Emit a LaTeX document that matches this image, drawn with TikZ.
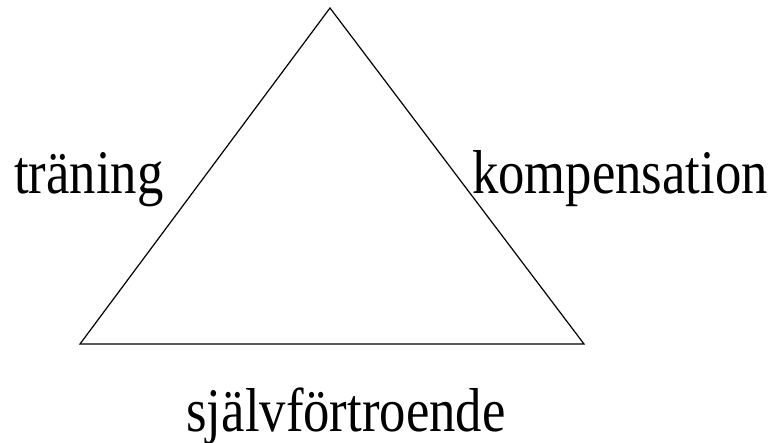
\documentclass[tikz,border=0pt]{standalone}
\usepackage{fontspec}
\setmainfont{Liberation Serif}
\usepackage{tikz}
\usetikzlibrary{positioning}

\begin{document}
\begin{tikzpicture}[
  x=1pt, y=-1pt,
  label/.style={inner sep=0pt, anchor=base west, xscale=0.85, font=\fontsize{62}{62}\selectfont},
  side/.style={line width=1.2pt, line join=miter}
]
  \useasboundingbox (0,0) rectangle (777,443);
  \coordinate (top) at (330,8);
  \coordinate (left) at (80,344);
  \coordinate (right) at (584,344);
  \draw[side] (top) -- (left) -- (right) -- cycle;

  \node[label] (traning) at (14,194) {träning};
  \node[label] (komp) at (472,194) {kompensation};
  \node[label, anchor=base] (sjalv) at (346,432) {självförtroende};
\end{tikzpicture}
\end{document}
